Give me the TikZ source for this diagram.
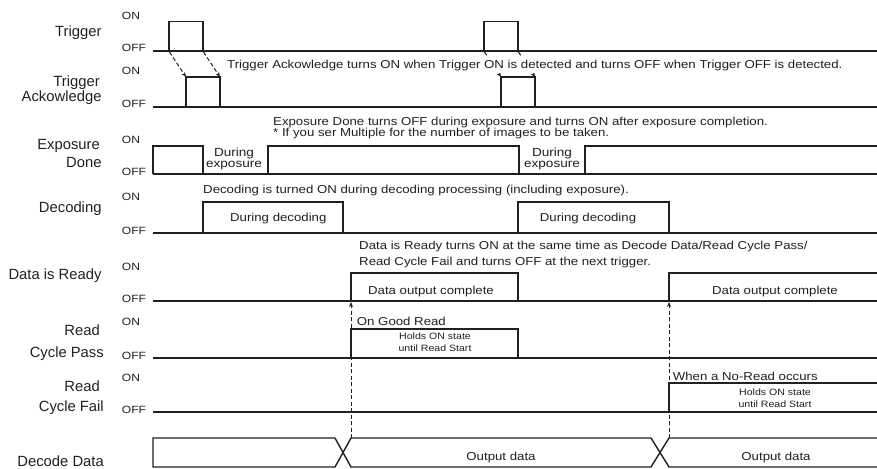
\documentclass[tikz,border=0pt]{standalone}
\usepackage{fontspec}
\setmainfont{Liberation Sans}
\newfontfamily\lab{Liberation Sans}
\newfontfamily\wid[FakeStretch=1.15]{Liberation Sans}
\usetikzlibrary{arrows.meta}
\definecolor{ink}{HTML}{231F20}
\begin{document}
\begin{tikzpicture}[x=1pt,y=-1pt,
  base/.style={line width=2.2pt, draw=ink},
  pulse/.style={line width=1.3pt, draw=ink, line join=miter},
  bus/.style={line width=1.4pt, draw=ink, line join=miter},
  dsh/.style={line width=1pt, draw=ink, dash pattern=on 4pt off 2.5pt, -{Stealth[length=5pt,width=4pt]}},
  lbl/.style={font=\lab\fontsize{14.8}{17}\selectfont, text=ink, anchor=base east, inner sep=0pt},
  lvl/.style={font=\wid\fontsize{10.5}{12}\selectfont, text=ink, anchor=base west, inner sep=0pt},
  note/.style={font=\wid\fontsize{11.5}{13}\selectfont, text=ink, anchor=base west, inner sep=0pt},
  inbox/.style={font=\wid\fontsize{11.5}{13}\selectfont, text=ink, anchor=base, inner sep=0pt},
  expo/.style={font=\wid\fontsize{11.8}{13}\selectfont, text=ink, anchor=base, inner sep=0pt},
  small/.style={font=\wid\fontsize{9.2}{10}\selectfont, text=ink, anchor=base, inner sep=0pt},
]
\useasboundingbox (0,0) rectangle (877,468);

% ---------- left labels ----------
\node[lbl] (lTrig) at (101.7,37) {Trigger};
\node[lbl] (lAck1) at (100,86.7) {Trigger};
\node[lbl] (lAck2) at (101.7,101.7) {Ackowledge};
\node[lbl] (lExp1) at (100,149.3) {Exposure};
\node[lbl] (lExp2) at (101.7,167.3) {Done};
\node[lbl] (lDec) at (101.7,212.3) {Decoding};
\node[lbl] (lRdy) at (101.7,279) {Data is Ready};
\node[lbl] (lPas1) at (100,335) {Read};
\node[lbl] (lPas2) at (104,357.7) {Cycle Pass};
\node[lbl] (lFai1) at (100,391.7) {Read};
\node[lbl] (lFai2) at (104,411.7) {Cycle Fail};
\node[lbl] (lDat) at (104,466) {Decode Data};

% ---------- ON / OFF ----------
\node[lvl] (on1) at (121.7,20) {ON};   \node[lvl] (off1) at (121.7,52) {OFF};
\node[lvl] (on2) at (121.7,75) {ON};   \node[lvl] (off2) at (121.7,108) {OFF};
\node[lvl] (on3) at (121.7,143.3) {ON}; \node[lvl] (off3) at (121.7,175) {OFF};
\node[lvl] (on4) at (121.7,200) {ON};   \node[lvl] (off4) at (121.7,234) {OFF};
\node[lvl] (on5) at (121.7,270) {ON};   \node[lvl] (off5) at (121.7,302) {OFF};
\node[lvl] (on6) at (121.7,325) {ON};   \node[lvl] (off6) at (121.7,359) {OFF};
\node[lvl] (on7) at (121.7,381.7) {ON}; \node[lvl] (off7) at (121.7,413) {OFF};

% ---------- Trigger ----------
\draw[base] (153,50.7) -- (877,50.7);
\draw[pulse] (169,50.7) -- (169,21.7) -- (203,21.7) -- (203,50.7);
\draw[pulse] (484,50.7) -- (484,21.7) -- (518,21.7) -- (518,50.7);
% ---------- Trigger Ackowledge ----------
\draw[base] (153,106.7) -- (877,106.7);
\draw[pulse] (186,106.7) -- (186,77) -- (220,77) -- (220,106.7);
\draw[pulse] (501,106.7) -- (501,77) -- (535,77) -- (535,106.7);
\coordinate (tA) at (169.5,52) ; \coordinate (aA) at (186,77);
\coordinate (tB) at (203.5,52) ; \coordinate (aB) at (220,77);
\coordinate (tC) at (484.5,52) ; \coordinate (aC) at (501,77);
\coordinate (tD) at (518.5,52) ; \coordinate (aD) at (535,77);
\draw[dsh] (tA) -- (aA);
\draw[dsh] (tB) -- (aB);
\draw[dsh] (tC) -- (aC);
\draw[dsh] (tD) -- (aD);
\node[note, fill=white, inner ysep=2.5pt] (nAck) at (227,68.3) {Trigger Ackowledge turns ON when Trigger ON is detected and turns OFF when Trigger OFF is detected.};

% ---------- Exposure Done ----------
\draw[base] (153,174.3) -- (877,174.3);
\draw[pulse] (153,174.3) -- (153,146) -- (203,146) -- (203,174.3);
\draw[pulse] (268,174.3) -- (268,146) -- (519,146) -- (519,174.3);
\draw[pulse] (585,174.3) -- (585,146) -- (877,146);
\node[note] (nExp1) at (273,125) {Exposure Done turns OFF during exposure and turns ON after exposure completion.};
\node[note] (nExp2) at (273,136.5) {* If you ser Multiple for the number of images to be taken.};
\node[expo] (dE1a) at (234,156) {During};
\node[expo] (dE1b) at (234,167.3) {exposure};
\node[expo] (dE2a) at (552,156) {During};
\node[expo] (dE2b) at (552,167.3) {exposure};

% ---------- Decoding ----------
\draw[base] (153,233.3) -- (877,233.3);
\draw[pulse] (203,233.3) -- (203,202) -- (343,202) -- (343,233.3);
\draw[pulse] (518,233.3) -- (518,202) -- (669,202) -- (669,233.3);
\node[note] (nDec) at (203,193) {Decoding is turned ON during decoding processing (including exposure).};
\node[inbox] (dD1) at (278.3,221.7) {During decoding};
\node[inbox] (dD2) at (588,221.7) {During decoding};

% ---------- Data is Ready ----------
\draw[base] (153,300.7) -- (877,300.7);
\draw[pulse] (351,300.7) -- (351,273) -- (518,273) -- (518,300.7);
\draw[pulse] (669,300.7) -- (669,273) -- (877,273);
\node[note] (nRdy1) at (359,249) {Data is Ready turns ON at the same time as Decode Data/Read Cycle Pass/};
\node[note] (nRdy2) at (359,265.7) {Read Cycle Fail and turns OFF at the next trigger.};
\node[inbox] (dR1) at (431,294) {Data output complete};
\node[inbox] (dR2) at (775,294) {Data output complete};

% ---------- Read Cycle Pass ----------
\draw[base] (153,357.7) -- (877,357.7);
\draw[pulse] (351,357.7) -- (351,329) -- (518,329) -- (518,357.7);
\node[note] (nPas) at (356.7,325) {On Good Read};
\node[small] (hP1) at (435,339.5) {Holds ON state};
\node[small] (hP2) at (435,351) {until Read Start};

% ---------- Read Cycle Fail ----------
\draw[base] (153,411.7) -- (877,411.7);
\draw[pulse] (669,411.7) -- (669,383) -- (877,383);
\node[note] (nFai) at (672.7,380) {When a No-Read occurs};
\node[small] (hF1) at (775,395.5) {Holds ON state};
\node[small] (hF2) at (775,407) {until Read Start};

% ---------- Decode Data ----------
\draw[bus] (335,438) -- (153,438) -- (153,467) -- (335,467) -- (351,438) -- (651,438) -- (669,467) -- (877,467);
\draw[bus] (335,438) -- (351,467) -- (651,467) -- (669,438) -- (877,438);
\node[inbox] (oD1) at (501,460.7) {Output data};
\node[inbox] (oD2) at (776,460.7) {Output data};

% ---------- vertical dashed arrows ----------
\coordinate (x1) at (351,438); \coordinate (r1) at (351,302);
\coordinate (x2) at (669,438); \coordinate (r2) at (669,302);
\draw[dsh] (x1) -- (r1);
\draw[dsh] (x2) -- (r2);
\end{tikzpicture}
\end{document}
